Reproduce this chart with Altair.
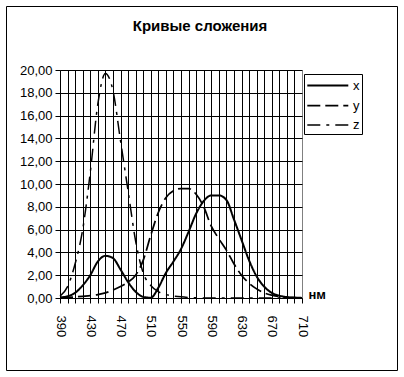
import altair as alt
import pandas as pd

wavelength = [390, 400, 410, 420, 430, 440, 450, 460, 470, 480, 490,
              500, 510, 520, 530, 540, 550, 560, 570, 580, 590, 600,
              610, 620, 630, 640, 650, 660, 670, 680, 690, 700, 710]

x_vals = [0.05, 0.15, 0.45, 1.1, 2.0, 3.2, 3.7, 3.5, 2.5, 1.4, 0.55,
          0.1, 0.02, 0.9, 2.2, 3.2, 4.3, 5.8, 7.4, 8.5, 9.0, 9.0,
          8.6, 6.9, 5.1, 3.3, 1.9, 1.0, 0.45, 0.2, 0.08, 0.03, 0.01]

y_vals = [0.02, 0.05, 0.1, 0.15, 0.2, 0.3, 0.45, 0.7, 1.0, 1.4, 2.0,
          3.3, 5.5, 7.5, 8.8, 9.4, 9.6, 9.6, 9.1, 8.0, 6.3, 5.2,
          4.2, 3.0, 2.0, 1.3, 0.8, 0.45, 0.25, 0.12, 0.06, 0.03, 0.01]

z_vals = [0.15, 1.0, 3.0, 6.0, 11.0, 17.0, 19.7, 18.2, 13.8, 9.4, 5.0,
          2.2, 1.1, 0.55, 0.3, 0.18, 0.1, 0.05, 0.02, 0.0, 0.0, 0.0,
          0.0, 0.0, 0.0, 0.0, 0.0, 0.0, 0.0, 0.0, 0.0, 0.0, 0.0]

series_names = ["x", "y", "z"]
y_ticks = [0, 2, 4, 6, 8, 10, 12, 14, 16, 18, 20]
title_text = "Кривые сложения"
x_unit = "нм"

rows = []
for name, vals in zip(series_names, [x_vals, y_vals, z_vals]):
    for w, v in zip(wavelength, vals):
        rows.append({"nm": w, "value": v, "series": name})
df = pd.DataFrame(rows)

FONT = "Liberation Sans"

legend = alt.Legend(
    title=None, orient="none", legendX=244, legendY=4,
    symbolType="M-1,0H4", symbolSize=269, symbolStrokeColor="black",
    labelOffset=28, labelFontSize=13, labelFont=FONT, labelColor="black",
    padding=2, rowPadding=3, strokeColor="black", fillColor="white",
)

lines = alt.Chart(df).mark_line(interpolate="monotone", color="black").encode(
    x=alt.X(
        "nm:Q",
        scale=alt.Scale(domain=[390, 710], nice=False, zero=False),
        axis=alt.Axis(
            values=wavelength,
            labelExpr="(datum.value - 390) % 40 == 0 ? datum.label : ''",
            labelAngle=90, labelAlign="left", labelBaseline="middle",
            labelPadding=12, labelOverlap=False, labelFlush=False,
            labelFont=FONT, labelFontSize=13, labelColor="black",
            tickSize=5, tickColor="black", domainColor="black",
            grid=True,
            gridColor={"condition": {"test": "datum.value == 710", "value": "#808080"}, "value": "black"},
            title=x_unit, titleX=248, titleY=0, titleAlign="left",
            titleBaseline="alphabetic", titleFontWeight="bold", titleFontSize=13,
            titleFont=FONT, titleColor="black",
        ),
    ),
    y=alt.Y(
        "value:Q",
        scale=alt.Scale(domain=[0, 20], nice=False),
        axis=alt.Axis(
            values=y_ticks,
            labelExpr="replace(format(datum.value, '.2f'), '.', ',')",
            labelFont=FONT, labelFontSize=13, labelColor="black",
            tickSize=5, tickColor="black", domainColor="black",
            labelPadding=3, grid=True, gridColor="black", title=None,
        ),
    ),
    strokeDash=alt.StrokeDash(
        "series:N",
        scale=alt.Scale(domain=series_names, range=[[1, 0], [13, 5], [13, 6, 3, 6]]),
        legend=legend,
    ),
    strokeWidth=alt.StrokeWidth(
        "series:N",
        scale=alt.Scale(domain=series_names, range=[2, 1.5, 1.5]),
        legend=legend,
    ),
)

border = alt.Chart(pd.DataFrame({"k": [0]})).mark_rect(
    fillOpacity=0, stroke="black", strokeWidth=1
).encode(
    x=alt.value(-53.5), x2=alt.value(337.5),
    y=alt.value(-63.5), y2=alt.value(300.5),
)

chart = alt.layer(border, lines).properties(
    width=242, height=228,
    autosize="none",
    padding={"left": 60, "top": 70, "right": 102, "bottom": 79},
    title=alt.TitleParams(
        title_text, font=FONT, fontSize=15, fontWeight="bold", color="black",
        frame="group", anchor="middle", dx=19, offset=-40, baseline="alphabetic",
    ),
).configure_view(
    stroke="#808080", fill="#C0C0C0"
).configure_axis(
    gridWidth=1, domainWidth=1,
).configure(background="white")

chart.save("out.html", embed_options={"renderer": "svg", "actions": False})
